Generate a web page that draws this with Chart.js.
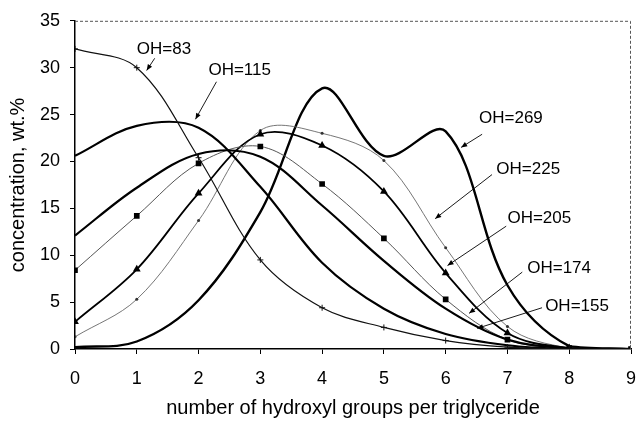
<!DOCTYPE html>
<html>
<head>
<meta charset="utf-8">
<script src="https://cdn.jsdelivr.net/npm/chart.js@4.4.1/dist/chart.umd.min.js"></script>
<style>
  html, body { margin: 0; padding: 0; background: #fff; }
  canvas { display: block; }
</style>
</head>
<body>
<canvas id="oh-chart" width="636" height="422"></canvas>
<script>
// number of OH groups per triglyceride molecule
const groups = [0, 1, 2, 3, 4, 5, 6, 7, 8, 9];

// distribution (wt.%) for each polyol hydroxyl number
const oh83  = [32.0, 30.0, 20.4, 9.5, 4.4, 2.3, 0.9, 0.2, 0.0, 0.0];
const oh115 = [20.6, 23.8, 23.6, 17.3, 9.2, 4.3, 1.6, 0.4, 0.0, 0.0];
const oh155 = [12.1, 17.2, 20.8, 20.5, 15.3, 9.4, 4.3, 1.0, 0.1, 0.0];
const oh174 = [8.4, 14.2, 19.8, 21.6, 17.6, 11.8, 5.3, 1.0, 0.1, 0.0];
const oh205 = [2.9, 8.5, 16.6, 22.9, 21.7, 16.8, 8.1, 1.7, 0.1, 0.0];
const oh225 = [1.3, 5.3, 13.7, 23.3, 23.0, 20.1, 10.8, 2.4, 0.1, 0.0];
const oh269 = [0.2, 0.8, 5.2, 14.6, 27.8, 20.6, 23.2, 6.8, 0.3, 0.0];

const yTicks = [0, 5, 10, 15, 20, 25, 30, 35];
const xTicks = [0, 1, 2, 3, 4, 5, 6, 7, 8, 9];

const FONT = "'Liberation Sans', Arial, sans-serif";

function pts(values) {
    return values.map((v, i) => ({ x: groups[i], y: v }));
}

// label text, label anchor and arrow (from -> tip), all in data units
const callouts = [
    { text: "OH=83",  at: [1.00, 31.5], from: [1.29, 31.0], tip: [1.16, 29.7] },
    { text: "OH=115", at: [2.16, 29.2], from: [2.29, 28.5], tip: [1.95, 24.5] },
    { text: "OH=269", at: [6.54, 24.1], from: [6.59, 22.9], tip: [6.25, 21.5] },
    { text: "OH=225", at: [6.82, 18.7], from: [6.75, 18.6], tip: [5.83, 13.9] },
    { text: "OH=205", at: [7.00, 13.4], from: [6.98, 13.1], tip: [6.03, 8.9] },
    { text: "OH=174", at: [7.32, 8.1],  from: [7.24, 8.2],  tip: [6.38, 3.8] },
    { text: "OH=155", at: [7.61, 4.0],  from: [7.56, 4.4],  tip: [6.51, 2.2] },
];

const calloutPlugin = {
    id: "callouts",
    afterDatasetsDraw(chart) {
        const { ctx, chartArea: a, scales: { x, y } } = chart;
        ctx.save();

        // dashed frame on top and right
        ctx.strokeStyle = "#555";
        ctx.lineWidth = 1;
        ctx.setLineDash([3, 2]);
        ctx.beginPath();
        ctx.moveTo(a.left, a.top + 0.5);
        ctx.lineTo(a.right - 0.5, a.top + 0.5);
        ctx.lineTo(a.right - 0.5, a.bottom);
        ctx.stroke();
        ctx.setLineDash([]);

        ctx.fillStyle = "#000";
        ctx.strokeStyle = "#000";
        ctx.font = "17px " + FONT;
        ctx.textAlign = "left";
        ctx.textBaseline = "alphabetic";
        for (const c of callouts) {
            ctx.fillText(c.text, x.getPixelForValue(c.at[0]), y.getPixelForValue(c.at[1]));
            const x0 = x.getPixelForValue(c.from[0]), y0 = y.getPixelForValue(c.from[1]);
            const x1 = x.getPixelForValue(c.tip[0]), y1 = y.getPixelForValue(c.tip[1]);
            const ang = Math.atan2(y1 - y0, x1 - x0);
            ctx.lineWidth = 0.9;
            ctx.beginPath();
            ctx.moveTo(x0, y0);
            ctx.lineTo(x1, y1);
            ctx.stroke();
            ctx.beginPath();
            ctx.moveTo(x1, y1);
            ctx.lineTo(x1 - 6 * Math.cos(ang) + 2.5 * Math.sin(ang), y1 - 6 * Math.sin(ang) - 2.5 * Math.cos(ang));
            ctx.lineTo(x1 - 6 * Math.cos(ang) - 2.5 * Math.sin(ang), y1 - 6 * Math.sin(ang) + 2.5 * Math.cos(ang));
            ctx.closePath();
            ctx.fill();
        }
        ctx.restore();
    }
};

function series(label, values, style) {
    return Object.assign({
        label: label,
        data: pts(values),
        borderColor: "#000",
        backgroundColor: "#000",
        borderWidth: 2,
        pointRadius: 0,
        tension: 0.35,
        fill: false,
    }, style);
}

new Chart(document.getElementById("oh-chart").getContext("2d"), {
    type: "line",
    data: {
        datasets: [
            series("OH=83", oh83, { borderWidth: 1.2, borderColor: "#111", pointStyle: "cross", pointRadius: 3, pointBorderWidth: 1, pointBorderColor: "#111" }),
            series("OH=115", oh115, { borderWidth: 2.2 }),
            series("OH=155", oh155, { borderWidth: 2.2 }),
            series("OH=174", oh174, { borderWidth: 1, borderColor: "#555", pointStyle: "rect", pointRadius: 4, pointBackgroundColor: "#000", pointBorderColor: "#000", pointBorderWidth: 0 }),
            series("OH=205", oh205, { borderWidth: 1.8, pointStyle: "triangle", pointRadius: 4.5, pointBackgroundColor: "#000", pointBorderColor: "#000", pointBorderWidth: 0 }),
            series("OH=225", oh225, { borderWidth: 0.9, borderColor: "#666", pointStyle: "circle", pointRadius: 1.5, pointBackgroundColor: "#333", pointBorderWidth: 0 }),
            series("OH=269", oh269, { borderWidth: 2.4 }),
        ]
    },
    options: {
        responsive: false,
        animation: false,
        layout: { padding: { top: 19, right: 4, left: 0, bottom: 0 } },
        plugins: { legend: { display: false }, tooltip: { enabled: false } },
        scales: {
            x: {
                type: "linear",
                min: 0,
                max: 9,
                afterBuildTicks(s) { s.ticks = xTicks.map(v => ({ value: v })); },
                afterFit(s) { s.height = 73; s.paddingLeft = 0; s.paddingRight = 0; },
                ticks: { color: "#000", font: { family: FONT, size: 18 }, padding: 14 },
                grid: { drawOnChartArea: false, tickLength: 5, color: "#000" },
                border: { color: "#000", width: 1.5 },
                title: {
                    display: true,
                    text: "number of hydroxyl groups per triglyceride",
                    color: "#000",
                    font: { family: FONT, size: 20 },
                    padding: { top: 0, bottom: 2 }
                }
            },
            y: {
                min: 0,
                max: 35,
                afterBuildTicks(s) { s.ticks = yTicks.map(v => ({ value: v })); },
                afterFit(s) { s.width = 75; },
                ticks: { color: "#000", font: { family: FONT, size: 18 }, padding: 10 },
                grid: { drawOnChartArea: false, tickLength: 5, color: "#000" },
                border: { color: "#000", width: 1.5 },
                title: {
                    display: true,
                    text: "concentration, wt.%",
                    color: "#000",
                    font: { family: FONT, size: 20 },
                    padding: { top: 6, bottom: 0 }
                }
            }
        }
    },
    plugins: [calloutPlugin]
});
</script>
</body>
</html>
